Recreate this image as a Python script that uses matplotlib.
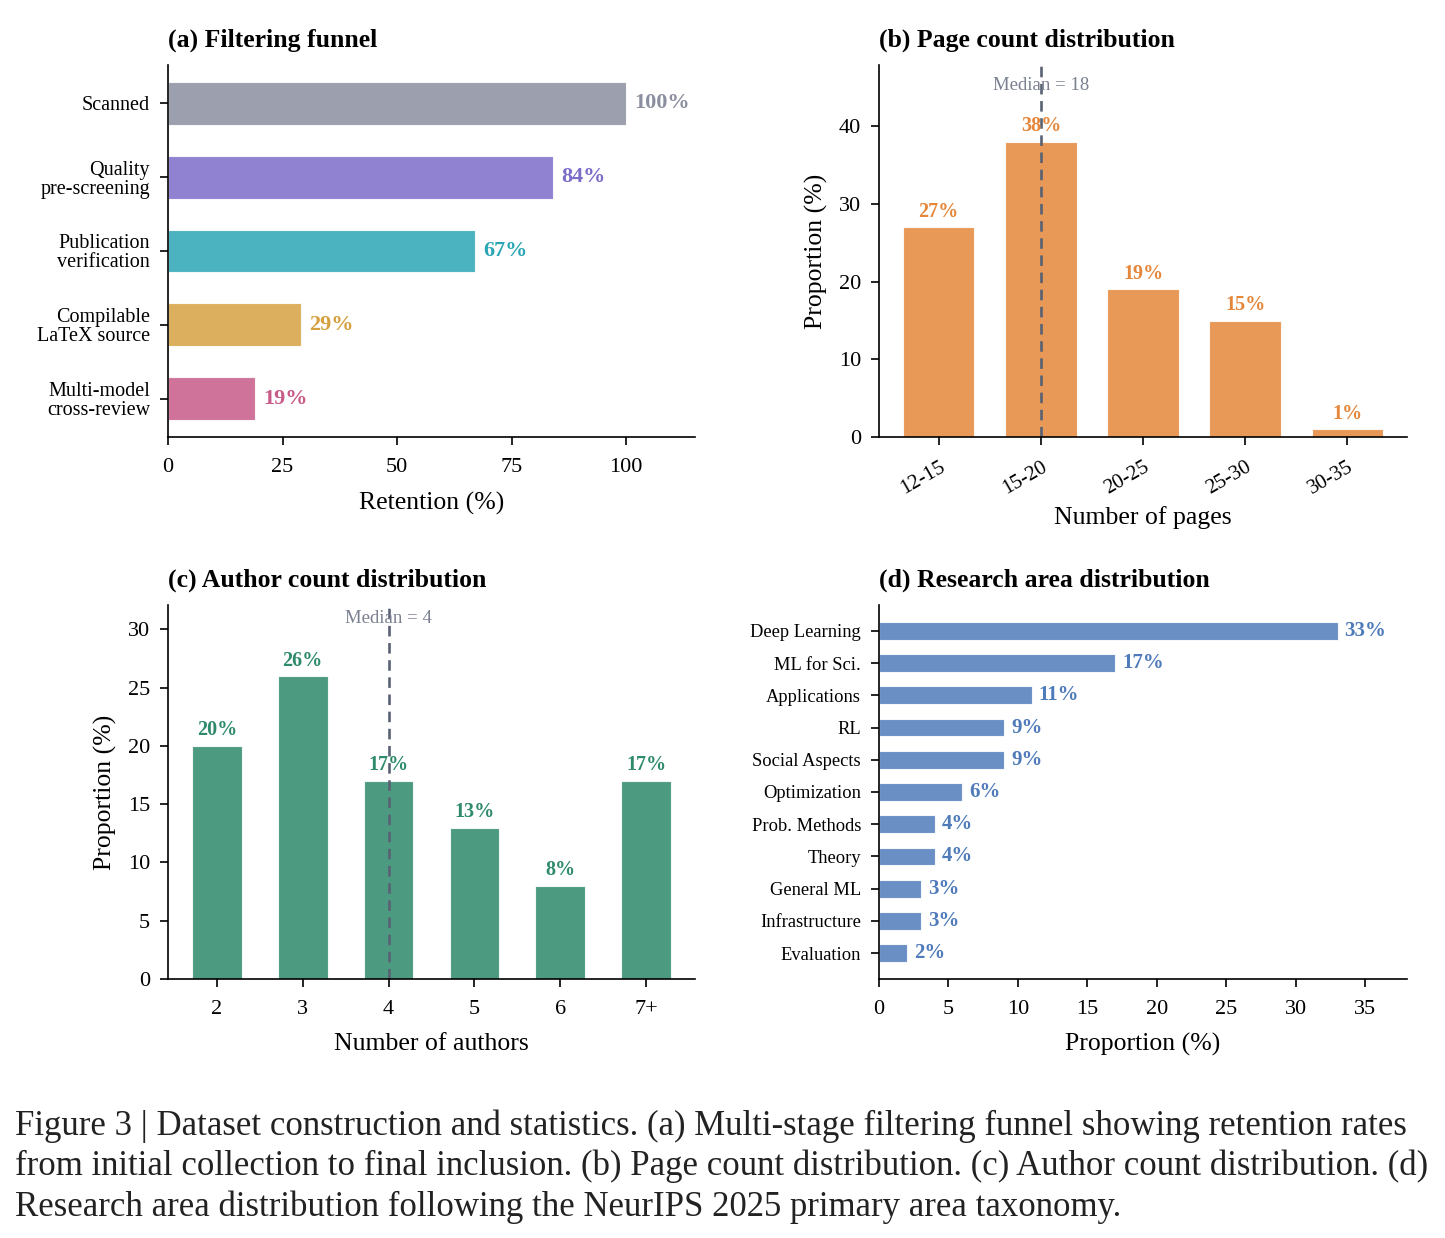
import matplotlib
matplotlib.use("Agg")
import matplotlib.pyplot as plt

plt.rcParams['font.family'] = ['Liberation Serif', 'DejaVu Serif']
plt.rcParams['axes.linewidth'] = 1.2

# ---------------- data ----------------
funnel_stages = ["Scanned", "Quality\npre-screening", "Publication\nverification",
                 "Compilable\nLaTeX source", "Multi-model\ncross-review"]
funnel_retention = [100, 84, 67, 29, 19]
funnel_colors = ["#8B8FA0", "#7D6CC8", "#2BA6B5", "#D5A140", "#C85B88"]

page_bins = ["12-15", "15-20", "20-25", "25-30", "30-35"]
page_props = [27, 38, 19, 15, 1]
page_median_label = "Median = 18"
page_median_idx = 1

author_bins = ["2", "3", "4", "5", "6", "7+"]
author_props = [20, 26, 17, 13, 8, 17]
author_median_label = "Median = 4"
author_median_idx = 2

areas = ["Deep Learning", "ML for Sci.", "Applications", "RL", "Social Aspects",
         "Optimization", "Prob. Methods", "Theory", "General ML",
         "Infrastructure", "Evaluation"]
area_props = [33, 17, 11, 9, 9, 6, 4, 4, 3, 3, 2]

caption_lines = [
    "Figure 3 | Dataset construction and statistics. (a) Multi-stage filtering funnel showing retention rates",
    "from initial collection to final inclusion. (b) Page count distribution. (c) Author count distribution. (d)",
    "Research area distribution following the NeurIPS 2025 primary area taxonomy.",
]

ORANGE = "#E5873B"
GREEN = "#2D8A6A"
BLUE = "#4F7BBA"
MEDIAN_LINE = "#596173"
MEDIAN_TEXT = "#7A8090"

TICK = 16
LABEL = 18.5
TITLE = 18.5

W, H = 1445, 1238
fig = plt.figure(figsize=(W / 100, H / 100), dpi=100)


def box(l, r, t, b):
    return [l / W, 1 - b / H, (r - l) / W, (b - t) / H]


axA = fig.add_axes(box(168, 695, 65, 437))
axB = fig.add_axes(box(879, 1407, 65, 437))
axC = fig.add_axes(box(168, 695, 605, 979))
axD = fig.add_axes(box(879, 1407, 605, 979))

for ax in (axA, axB, axC, axD):
    ax.spines['top'].set_visible(False)
    ax.spines['right'].set_visible(False)
    ax.tick_params(length=6, width=1.2, labelsize=TICK)
    ax.tick_params(axis='x', pad=9)
    ax.tick_params(axis='y', pad=7)

# ---------------- (a) ----------------
ya = list(range(len(funnel_stages)))
axA.barh(ya, funnel_retention, height=0.58, color=funnel_colors, alpha=0.85,
         edgecolor="white", linewidth=0.8)
for y, v, c in zip(ya, funnel_retention, funnel_colors):
    axA.annotate(f"{v}%", (v, y), xytext=(6, 0), textcoords="offset points",
                 va="center", ha="left", fontsize=16, fontweight="bold", color=c)
axA.set_yticks(ya)
axA.set_yticklabels(funnel_stages, fontsize=14.5, linespacing=1.0)
axA.invert_yaxis()
axA.set_xlim(0, 115)
axA.set_xticks([0, 25, 50, 75, 100])
axA.set_xlabel("Retention (%)", fontsize=LABEL, labelpad=11)
axA.set_title("(a) Filtering funnel", loc="left", fontsize=TITLE, fontweight="bold", pad=13)

# ---------------- (b) ----------------
xb = list(range(len(page_bins)))
axB.bar(xb, page_props, width=0.7, color=ORANGE, alpha=0.85, edgecolor="white", linewidth=0.8)
for x, v in zip(xb, page_props):
    axB.annotate(f"{v}%", (x, v), xytext=(0, 4), textcoords="offset points",
                 ha="center", va="bottom", fontsize=14.5, fontweight="bold", color=ORANGE)
axB.axvline(page_median_idx, color=MEDIAN_LINE, linestyle=(0, (4, 2.5)), linewidth=1.9)
axB.text(page_median_idx, max(page_props) * 1.19, page_median_label, ha="center", va="center",
         fontsize=13.5, color=MEDIAN_TEXT)
axB.set_ylim(0, 47.9)
axB.set_yticks([0, 10, 20, 30, 40])
axB.set_xticks(xb)
axB.set_xticklabels(page_bins, rotation=30, ha="right", rotation_mode="anchor", fontsize=15)
axB.set_xlabel("Number of pages", fontsize=LABEL, labelpad=5)
axB.set_ylabel("Proportion (%)", fontsize=LABEL, labelpad=8)
axB.set_title("(b) Page count distribution", loc="left", fontsize=TITLE, fontweight="bold", pad=13)

# ---------------- (c) ----------------
xc = list(range(len(author_bins)))
axC.bar(xc, author_props, width=0.58, color=GREEN, alpha=0.85, edgecolor="white", linewidth=0.8)
for x, v in zip(xc, author_props):
    axC.annotate(f"{v}%", (x, v), xytext=(0, 4), textcoords="offset points",
                 ha="center", va="bottom", fontsize=14.5, fontweight="bold", color=GREEN)
axC.axvline(author_median_idx, color=MEDIAN_LINE, linestyle=(0, (4, 2.5)), linewidth=1.9)
axC.text(author_median_idx, max(author_props) * 1.19, author_median_label, ha="center",
         va="center", fontsize=13.5, color=MEDIAN_TEXT)
axC.set_ylim(0, 32.1)
axC.set_yticks([0, 5, 10, 15, 20, 25, 30])
axC.set_xticks(xc)
axC.set_xticklabels(author_bins)
axC.set_xlabel("Number of authors", fontsize=LABEL, labelpad=10)
axC.set_ylabel("Proportion (%)", fontsize=LABEL, labelpad=8)
axC.set_title("(c) Author count distribution", loc="left", fontsize=TITLE, fontweight="bold", pad=13)

# ---------------- (d) ----------------
yd = list(range(len(areas)))
axD.barh(yd, area_props, height=0.55, color=BLUE, alpha=0.85, edgecolor="white", linewidth=0.8)
for y, v in zip(yd, area_props):
    axD.annotate(f"{v}%", (v, y), xytext=(5, 0), textcoords="offset points",
                 va="center", ha="left", fontsize=15, fontweight="bold", color=BLUE)
axD.set_yticks(yd)
axD.set_yticklabels(areas, fontsize=13.3)
axD.invert_yaxis()
axD.set_xlim(0, 38)
axD.set_xticks([0, 5, 10, 15, 20, 25, 30, 35])
axD.set_xlabel("Proportion (%)", fontsize=LABEL, labelpad=10)
axD.set_title("(d) Research area distribution", loc="left", fontsize=TITLE, fontweight="bold", pad=13)

# ---------------- caption ----------------
for i, line in enumerate(caption_lines):
    fig.text(15 / W, 1 - (1126 + 40.5 * i) / H, line, ha="left", va="center",
             fontsize=25, color="#222222")

fig.savefig("out.png", dpi=100, facecolor="white")
